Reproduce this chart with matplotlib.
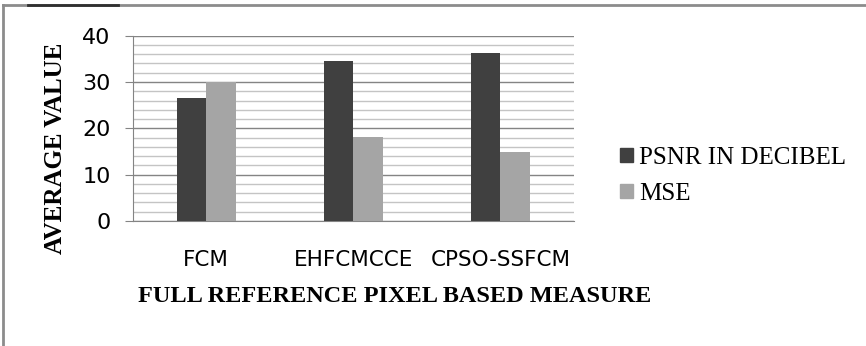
import numpy as np
import matplotlib
matplotlib.use("Agg")
import matplotlib.pyplot as plt
from matplotlib.patches import Patch
from matplotlib.lines import Line2D

categories = ["FCM", "EHFCMCCE", "CPSO-SSFCM"]
psnr = [26.5, 34.6, 36.2]
mse = [30.0, 18.1, 15.0]
series_names = ["PSNR IN DECIBEL", "MSE"]

dark = "#404040"
light = "#a5a5a5"

fig = plt.figure(figsize=(8.66, 3.46), dpi=100)
ax = fig.add_axes([132.7 / 866, 1 - 221 / 346, (574 - 132.7) / 866, (221 - 35.7) / 346])

x = np.arange(len(categories))
w = 0.2
ax.bar(x - w / 2, psnr, w, color=dark, zorder=3)
ax.bar(x + w / 2, mse, w, color=light, zorder=3)

ax.set_xlim(-0.5, 2.5)
ax.set_ylim(0, 40)
ax.set_yticks([0, 10, 20, 30, 40])
ax.set_yticks(np.arange(0, 41, 2), minor=True)
ax.grid(axis="y", which="minor", color="#c4c4c4", linewidth=1.0, zorder=0)
ax.grid(axis="y", which="major", color="#848484", linewidth=1.0, zorder=1)
ax.tick_params(axis="y", which="major", length=6, color="#848484", pad=10, labelsize=16)
ax.tick_params(axis="y", which="minor", length=0)
ax.set_xticks(x)
ax.set_xticklabels(categories)
ax.tick_params(axis="x", length=0, pad=21, labelsize=15.5)

for s in ["top", "right"]:
    ax.spines[s].set_visible(False)
ax.spines["left"].set_color("#848484")
ax.spines["bottom"].set_color("#848484")

serif = "Liberation Serif"
fig.text(395 / 866, 1 - 297 / 346, "FULL REFERENCE PIXEL BASED MEASURE",
         family=serif, fontsize=17.5, fontweight="bold", ha="center", va="center")
fig.text(55 / 866, 1 - 148.5 / 346, "AVERAGE VALUE", family=serif,
         fontsize=18, fontweight="bold", rotation=90, ha="center", va="center")

handles = [Patch(color=dark), Patch(color=light)]
fig.legend(handles, series_names, loc="center left",
           bbox_to_anchor=(610 / 866, 1 - 176 / 346), frameon=False,
           prop={"family": serif, "size": 18}, handlelength=0.5,
           handleheight=0.5, handletextpad=0.25, labelspacing=0.55,
           borderaxespad=0)

# outer frame of the chart area
fig.add_artist(Line2D([3 / 866, 1], [1 - 5 / 346] * 2, color="#8c8c8c", linewidth=2))
fig.add_artist(Line2D([3 / 866] * 2, [0, 1 - 5 / 346], color="#8c8c8c", linewidth=2))
fig.add_artist(Line2D([28 / 866, 118 / 866], [1 - 5 / 346] * 2, color="#303030", linewidth=2))

fig.savefig("out.png", dpi=100)
